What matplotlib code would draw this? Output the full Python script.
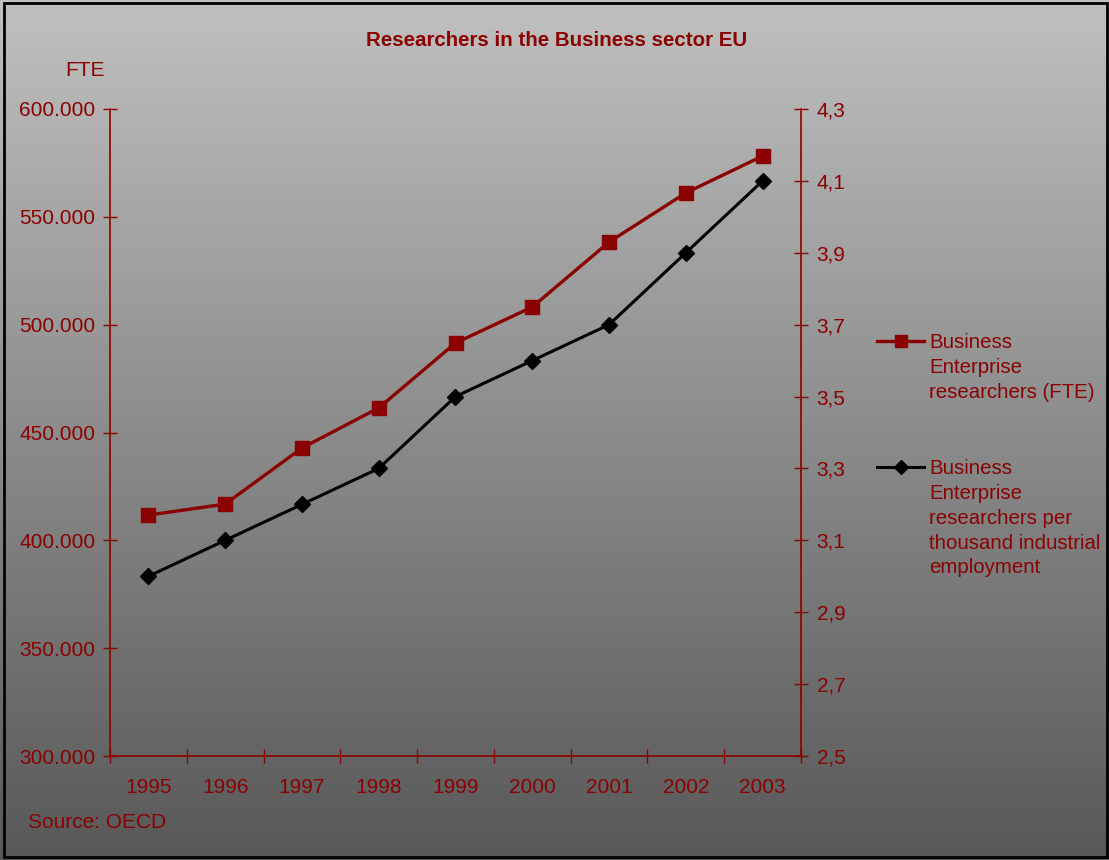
import matplotlib
matplotlib.use("Agg")
import matplotlib.pyplot as plt
import numpy as np
from matplotlib.patches import Rectangle
from matplotlib.lines import Line2D
from matplotlib.ticker import FixedLocator, FuncFormatter

years = ["1995", "1996", "1997", "1998", "1999", "2000", "2001", "2002", "2003"]
fte = [411700, 416800, 442800, 461400, 491500, 508200, 538300, 561100, 578200]
per_thousand = [3.0, 3.1, 3.2, 3.3, 3.5, 3.6, 3.7, 3.9, 4.1]
left_ticks = [300000, 350000, 400000, 450000, 500000, 550000, 600000]
right_ticks = [2.5, 2.7, 2.9, 3.1, 3.3, 3.5, 3.7, 3.9, 4.1, 4.3]
label_fte = "Business\nEnterprise\nresearchers (FTE)"
label_pt = "Business\nEnterprise\nresearchers per\nthousand industrial\nemployment"

RED = "#8B0000"
W, H = 1109, 860
plt.rcParams['font.family'] = ['Liberation Sans', 'DejaVu Sans']
fig = plt.figure(figsize=(W / 100, H / 100), dpi=100)

# gradient background
bg = fig.add_axes([0, 0, 1, 1], zorder=-10)
grad = np.linspace(192, 88, 256).reshape(-1, 1) / 255.0
bg.imshow(np.dstack([grad, grad, grad]), aspect='auto', extent=[0, 1, 0, 1])
bg.set_xlim(0, 1); bg.set_ylim(0, 1)
bg.axis('off')
bg.add_patch(Rectangle((4 / W, 3 / H), 1103 / W, 854 / H, fill=False,
                       edgecolor='black', linewidth=2, transform=bg.transAxes))

L, R, B, T = 110 / W, 801 / W, 1 - 756 / H, 1 - 109 / H
ax = fig.add_axes([L, B, R - L, T - B])
ax.patch.set_alpha(0)
ax2 = ax.twinx()
ax2.patch.set_alpha(0)

x = np.arange(len(years)) + 0.5
ax.plot(x, fte, color=RED, linewidth=2.4, marker='s', markersize=10.5, zorder=3)
ax2.plot(x, per_thousand, color='black', linewidth=2.2, marker='D', markersize=8, zorder=3)

ax.set_xlim(0, len(years))
ax.set_ylim(300000, 600000)
ax2.set_ylim(2.5, 4.3)
ax.yaxis.set_major_locator(FixedLocator(left_ticks))
ax.yaxis.set_major_formatter(FuncFormatter(lambda v, p: f"{int(v):,}".replace(",", ".")))
ax2.yaxis.set_major_locator(FixedLocator(right_ticks))
ax2.yaxis.set_major_formatter(FuncFormatter(lambda v, p: f"{v:.1f}".replace(".", ",")))

TL = 9.4
ax.set_xticks(np.arange(len(years) + 1))
ax.set_xticklabels([])
ax.set_xticks(x, minor=True)
ax.set_xticklabels(years, minor=True)
ax.tick_params(axis='x', which='major', direction='inout', length=TL, width=1, color=RED)
ax.tick_params(axis='x', which='minor', length=0, pad=16, labelsize=15, labelcolor=RED)
ax.tick_params(axis='y', direction='inout', length=TL, width=1, color=RED,
               labelsize=15, labelcolor=RED, pad=6)
ax2.tick_params(axis='y', direction='inout', length=TL, width=1, color=RED,
                labelsize=15, labelcolor=RED, pad=6.5)

for a in (ax, ax2):
    a.spines['top'].set_visible(False)
    for s in ('left', 'right', 'bottom'):
        a.spines[s].set_color(RED)
        a.spines[s].set_linewidth(1.2)
ax.spines['right'].set_visible(False)
ax2.spines['left'].set_visible(False)
ax2.spines['bottom'].set_visible(False)

fig.text(557 / W, 1 - 40 / H, "Researchers in the Business sector EU", ha='center',
         va='center', fontsize=14.8, fontweight='bold', color=RED)
fig.text(85 / W, 1 - 70 / H, "FTE", ha='center', va='center', fontsize=15, color=RED)
fig.text(28 / W, 1 - 822 / H, "Source: OECD", ha='left', va='center', fontsize=15, color=RED)

# legend drawn manually
def legend_entry(y_px, color, marker, ms, lw, label):
    yy = 1 - y_px / H
    fig.add_artist(Line2D([877 / W, 924 / W], [yy, yy], color=color, linewidth=lw,
                          transform=fig.transFigure))
    fig.add_artist(Line2D([900.5 / W], [yy], color=color, marker=marker, markersize=ms,
                          linestyle='none', transform=fig.transFigure))
    fig.text(929 / W, 1 - (y_px - 8) / H, label, ha='left', va='top', fontsize=14.7,
             color=RED, linespacing=1.39)

legend_entry(341, RED, 's', 9, 2.4, label_fte)
legend_entry(467, 'black', 'D', 7, 2.2, label_pt)

fig.savefig("out.png", dpi=100)
